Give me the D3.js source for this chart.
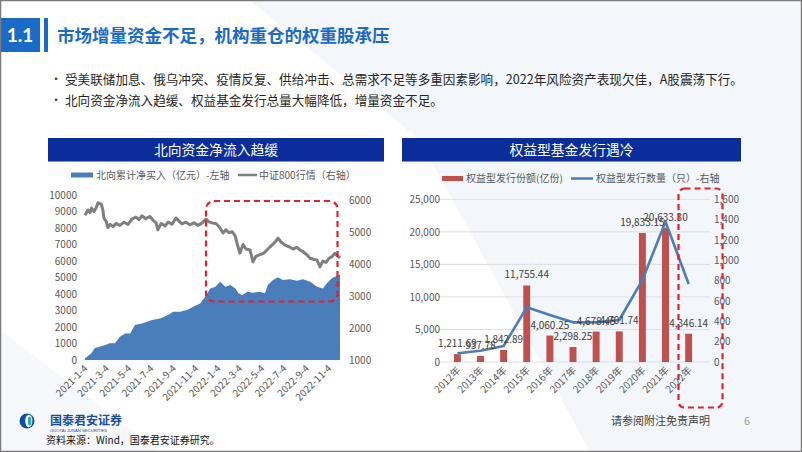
<!DOCTYPE html>
<html><head><meta charset="utf-8">
<script src="https://cdn.jsdelivr.net/npm/d3@7/dist/d3.min.js"></script>
<style>
html,body{margin:0;padding:0;background:#fff;}
svg{display:block;font-family:"Noto Sans CJK SC","Noto Sans",sans-serif;}
</style></head>
<body><svg id="c" width="802" height="452"></svg>
<script>
// ---------- data ----------
const bullets = [
  "受美联储加息、俄乌冲突、疫情反复、供给冲击、总需求不足等多重因素影响，2022年风险资产表现欠佳，A股震荡下行。",
  "北向资金净流入趋缓、权益基金发行总量大幅降低，增量资金不足。"
];
// Left chart: northbound cumulative net buy (亿元, left axis)
const nbDates = ["2021-01-04","2021-01-12","2021-01-22","2021-01-31","2021-02-13","2021-02-27","2021-03-13","2021-03-27","2021-04-10","2021-04-24","2021-05-08","2021-05-21","2021-06-12","2021-07-07","2021-07-29","2021-08-20","2021-09-03","2021-09-22","2021-10-11","2021-10-28","2021-11-16","2021-11-30","2021-12-14","2021-12-28","2022-01-10","2022-01-24","2022-02-07","2022-02-21","2022-03-01","2022-03-12","2022-03-26","2022-04-10","2022-04-29","2022-05-13","2022-05-21","2022-06-04","2022-06-18","2022-07-01","2022-07-21","2022-08-09","2022-08-25","2022-09-14","2022-10-03","2022-10-19","2022-10-30","2022-11-13","2022-11-21","2022-12-02","2022-12-05"];
const nbValues = [100,250,420,730,810,900,1010,1010,1410,1610,1610,2120,2220,2420,2520,2730,2930,2930,3030,3230,3430,3840,4340,4440,4750,4440,4540,4340,4040,3940,4140,4080,4140,4040,4540,4850,5010,4850,4890,4810,4890,4750,4440,4340,4650,4950,5050,5150,5150];
// CSI 800 index (right axis)
const csiDates = ["2021-01-04","2021-01-12","2021-01-18","2021-01-22","2021-01-29","2021-02-03","2021-02-09","2021-02-18","2021-02-22","2021-02-25","2021-03-03","2021-03-08","2021-03-14","2021-03-22","2021-03-30","2021-04-10","2021-04-21","2021-05-02","2021-05-13","2021-05-24","2021-06-01","2021-06-09","2021-06-20","2021-07-01","2021-07-10","2021-07-18","2021-07-23","2021-08-01","2021-08-12","2021-08-20","2021-08-31","2021-09-11","2021-09-19","2021-09-27","2021-10-08","2021-10-19","2021-10-30","2021-11-10","2021-11-21","2021-12-02","2021-12-10","2021-12-21","2021-12-30","2022-01-07","2022-01-18","2022-01-26","2022-02-03","2022-02-12","2022-02-20","2022-02-28","2022-03-05","2022-03-14","2022-03-22","2022-04-02","2022-04-10","2022-04-18","2022-04-29","2022-05-10","2022-05-21","2022-06-01","2022-06-10","2022-06-18","2022-06-26","2022-07-07","2022-07-18","2022-07-29","2022-08-09","2022-08-17","2022-08-25","2022-09-05","2022-09-14","2022-09-25","2022-10-03","2022-10-11","2022-10-19","2022-10-28","2022-11-05","2022-11-13","2022-11-21","2022-11-30","2022-12-05"];
const csiValues = [5540,5700,5620,5760,5650,5760,5930,5880,5700,5450,5350,5150,5250,5180,5280,5220,5320,5250,5420,5480,5400,5520,5430,5500,5380,5300,5080,5280,5200,5320,5260,5450,5350,5270,5320,5240,5300,5220,5290,5420,5330,5290,5270,5180,4980,5080,4990,5020,4900,4550,4350,4620,4480,4450,4080,4250,4300,4350,4480,4600,4700,4820,4700,4600,4550,4480,4530,4450,4400,4300,4190,4150,4130,3920,4100,4060,4190,4240,4345,4250,4200];
const leftTicksL = [0,1000,2000,3000,4000,5000,6000,7000,8000,9000,10000];
const leftTicksR = [1000,2000,3000,4000,5000,6000];
const leftXTicks = ["2021-01-04","2021-03-04","2021-05-04","2021-07-04","2021-09-04","2021-11-04","2022-01-04","2022-03-04","2022-05-04","2022-07-04","2022-09-04","2022-11-04"];

// Right chart: equity fund issuance
const years = ["2012年","2013年","2014年","2015年","2016年","2017年","2018年","2019年","2020年","2021年","2022年"];
const shares = [1211.69,937.78,1842.89,11755.44,4060.25,2298.25,4678.45,4701.74,19833.15,20633.30,4346.14];
const counts = [86,111,157,538,462,390,390,413,806,1380,767];
const rightTicksL = [0,5000,10000,15000,20000,25000];
const rightTicksR = [0,200,400,600,800,1000,1200,1400,1600];

// ---------- drawing ----------
const svg = d3.select("#c");
const parse = d3.timeParse("%Y-%m-%d");

// background decoration
svg.append("rect").attr("width",802).attr("height",452).attr("fill","#ffffff");
svg.append("polygon").attr("points","250,0 802,0 802,452 590,452 420,140").attr("fill","#f3f6fa");
svg.append("polygon").attr("points","0,330 160,452 0,452").attr("fill","#f6f8fb");

// header
svg.append("rect").attr("x",0).attr("y",18).attr("width",40).attr("height",34).attr("fill","#1a6bc6");
svg.append("text").attr("x",20).attr("y",42).attr("text-anchor","middle").attr("fill","#fff")
  .attr("font-size",19).attr("font-weight","bold").attr("font-family","Lato,'Noto Sans',sans-serif").text("1.1");
svg.append("rect").attr("x",44).attr("y",18).attr("width",4).attr("height",34).attr("fill","#1a6bc6");
svg.append("text").attr("x",57).attr("y",41.5).attr("fill","#1a6bc6").attr("font-size",17.5)
  .attr("font-weight","bold").text("市场增量资金不足，机构重仓的权重股承压");

bullets.forEach((b,i)=>{
  const y = 84 + i*21;
  svg.append("text").attr("x",50).attr("y",y).attr("fill","#404040").attr("font-size",12).text("•");
  svg.append("text").attr("x",65).attr("y",y).attr("fill","#262626").attr("font-size",12.6).text(b);
});

// chart title bars
function titleBar(x,w,label){
  svg.append("rect").attr("x",x).attr("y",138).attr("width",w).attr("height",23.5).attr("fill","#0b2d9c");
  svg.append("text").attr("x",x+w/2).attr("y",154.5).attr("text-anchor","middle").attr("fill","#fff")
    .attr("font-size",13.8).text(label);
}
titleBar(48,336,"北向资金净流入趋缓");
titleBar(402,339,"权益型基金发行遇冷");

const axisTextColor = "#595959";

// ===== Left chart =====
const xL = d3.scaleTime().domain([parse("2021-01-04"), parse("2022-12-05")]).range([85,340]);
const yL = d3.scaleLinear().domain([0,10000]).range([360,195]);
const yR = d3.scaleLinear().domain([1000,6000]).range([360,200.5]);

const nb = nbDates.map((d,i)=>({d:parse(d), v:nbValues[i]}));
const csi = csiDates.map((d,i)=>({d:parse(d), v:csiValues[i]}));

svg.append("path").datum(nb)
  .attr("d", d3.area().x(p=>xL(p.d)).y0(yL(0)).y1(p=>yL(p.v)))
  .attr("fill","#4a7ebb");
svg.append("path").datum(csi)
  .attr("d", d3.line().x(p=>xL(p.d)).y(p=>yR(p.v)))
  .attr("fill","none").attr("stroke","#7f7f7f").attr("stroke-width",3).attr("stroke-linejoin","round");

const gLA = svg.append("g").attr("transform","translate(77,0)")
  .call(d3.axisLeft(yL).tickValues(leftTicksL).tickSize(0).tickPadding(0).tickFormat(d3.format("d")));
const gRA = svg.append("g").attr("transform","translate(349,0)")
  .call(d3.axisRight(yR).tickValues(leftTicksR).tickSize(0).tickPadding(0).tickFormat(d3.format("d")));
const gXA = svg.append("g").attr("transform","translate(0,360)")
  .call(d3.axisBottom(xL).tickValues(leftXTicks.map(parse)).tickSize(0).tickFormat(d3.timeFormat("%Y-%-m-%-d")));
gXA.selectAll("text").attr("text-anchor","end").attr("dy",0).attr("y",0)
  .attr("transform","translate(3,9) rotate(-45)");
[gLA,gRA,gXA].forEach(g=>{
  g.select(".domain").remove();
  g.selectAll("text").attr("fill",axisTextColor).attr("font-size",10)
   .attr("font-family","'Noto Sans CJK SC','Noto Sans',sans-serif");
});

// left legend
svg.append("rect").attr("x",71).attr("y",172.5).attr("width",22).attr("height",5).attr("fill","#4a7ebb");
svg.append("text").attr("x",96).attr("y",178.5).attr("font-size",10).attr("fill",axisTextColor).text("北向累计净买入（亿元）-左轴");
svg.append("line").attr("x1",238).attr("x2",257).attr("y1",175).attr("y2",175).attr("stroke","#7f7f7f").attr("stroke-width",2.5);
svg.append("text").attr("x",259).attr("y",178.5).attr("font-size",10).attr("fill",axisTextColor).text("中证800行情（右轴）");

// left dashed box
svg.append("rect").attr("x",206).attr("y",201).attr("width",131.5).attr("height",100.5).attr("rx",8)
  .attr("fill","none").attr("stroke","#e3202b").attr("stroke-width",2.2).attr("stroke-dasharray","6,4");

// ===== Right chart =====
const xB = d3.scaleBand().domain(years).range([437.7,708.3]).padding(0.7);
const yB = d3.scaleLinear().domain([0,25000]).range([362,199.3]);
const yC = d3.scaleLinear().domain([0,1600]).range([362,199.3]);

// gridlines
svg.append("g").selectAll("line").data(rightTicksL).join("line")
  .attr("x1",438).attr("x2",710).attr("y1",d=>yB(d)).attr("y2",d=>yB(d))
  .attr("stroke","#dcdfe3").attr("stroke-width",1);

svg.append("g").selectAll("rect").data(years).join("rect")
  .attr("x",d=>xB(d)).attr("width",xB.bandwidth())
  .attr("y",(d,i)=>yB(shares[i])).attr("height",(d,i)=>yB(0)-yB(shares[i]))
  .attr("fill","#c0504d");

svg.append("path").datum(counts)
  .attr("d", d3.line().x((v,i)=>xB(years[i])+xB.bandwidth()/2).y(v=>yC(v)))
  .attr("fill","none").attr("stroke","#4a7ebb").attr("stroke-width",2.6).attr("stroke-linejoin","round");

svg.append("g").selectAll("text").data(years).join("text")
  .attr("x",d=>xB(d)+xB.bandwidth()/2).attr("y",(d,i)=>yB(shares[i])-7)
  .attr("text-anchor","middle").attr("font-size",10).attr("fill","#404040")
  .text((d,i)=>d3.format(",.2f")(shares[i]));

const gBL = svg.append("g").attr("transform","translate(440,0)")
  .call(d3.axisLeft(yB).tickValues(rightTicksL).tickSize(0).tickPadding(0).tickFormat(d3.format(",")));
const gBR = svg.append("g").attr("transform","translate(714,0)")
  .call(d3.axisRight(yC).tickValues(rightTicksR).tickSize(0).tickPadding(0).tickFormat(d3.format(",")));
const gBX = svg.append("g").attr("transform","translate(0,362)")
  .call(d3.axisBottom(xB).tickSize(0));
gBX.selectAll("text").attr("text-anchor","end").attr("dy",0).attr("y",0)
  .attr("transform","translate(4,9) rotate(-45)");
[gBL,gBR,gBX].forEach(g=>{
  g.select(".domain").remove();
  g.selectAll("text").attr("fill",axisTextColor).attr("font-size",10)
   .attr("font-family","'Noto Sans CJK SC','Noto Sans',sans-serif");
});

// right legend
svg.append("rect").attr("x",442).attr("y",176).attr("width",21).attr("height",5).attr("fill","#c0504d");
svg.append("text").attr("x",466).attr("y",182).attr("font-size",10).attr("fill",axisTextColor).text("权益型发行份额(亿份)");
svg.append("line").attr("x1",571).attr("x2",593).attr("y1",178.5).attr("y2",178.5).attr("stroke","#4a7ebb").attr("stroke-width",2.5);
svg.append("text").attr("x",596).attr("y",182).attr("font-size",10).attr("fill",axisTextColor).text("权益型发行数量（只）-右轴");

// right dashed box
svg.append("rect").attr("x",678.5).attr("y",188.5).attr("width",44).attr("height",219).attr("rx",6)
  .attr("fill","none").attr("stroke","#e3202b").attr("stroke-width",2.2).attr("stroke-dasharray","6,4");

// ===== footer =====
const logo = svg.append("g").attr("transform","translate(27,421)");
logo.append("circle").attr("r",7.5).attr("fill","#0d4ea6");
logo.append("ellipse").attr("cx",1.8).attr("rx",3.6).attr("ry",6.2).attr("fill","#ffffff");
logo.append("ellipse").attr("cx",2.6).attr("rx",1.8).attr("ry",4.6).attr("fill","#2aa6c9");
svg.append("text").attr("x",50).attr("y",425).attr("font-size",12).attr("font-weight","bold").attr("fill","#1b4f9e").text("国泰君安证券");
svg.append("text").attr("x",50).attr("y",432).attr("font-size",4.2).attr("fill","#1b4f9e").attr("font-family","Arial,'Liberation Sans',sans-serif").text("GUOTAI JUNAN SECURITIES");
svg.append("text").attr("x",46).attr("y",444).attr("font-size",10).attr("fill","#111").text("资料来源：Wind，国泰君安证券研究。");
svg.append("text").attr("x",611).attr("y",425).attr("font-size",11).attr("fill","#404040").text("请参阅附注免责声明");
svg.append("text").attr("x",744).attr("y",425).attr("font-size",11).attr("fill","#9a9a9a").text("6");

// slide border
svg.append("rect").attr("x",0.5).attr("y",0.5).attr("width",801).attr("height",451)
  .attr("fill","none").attr("stroke","#7a7a7a").attr("stroke-width",1.5);
</script></body></html>
